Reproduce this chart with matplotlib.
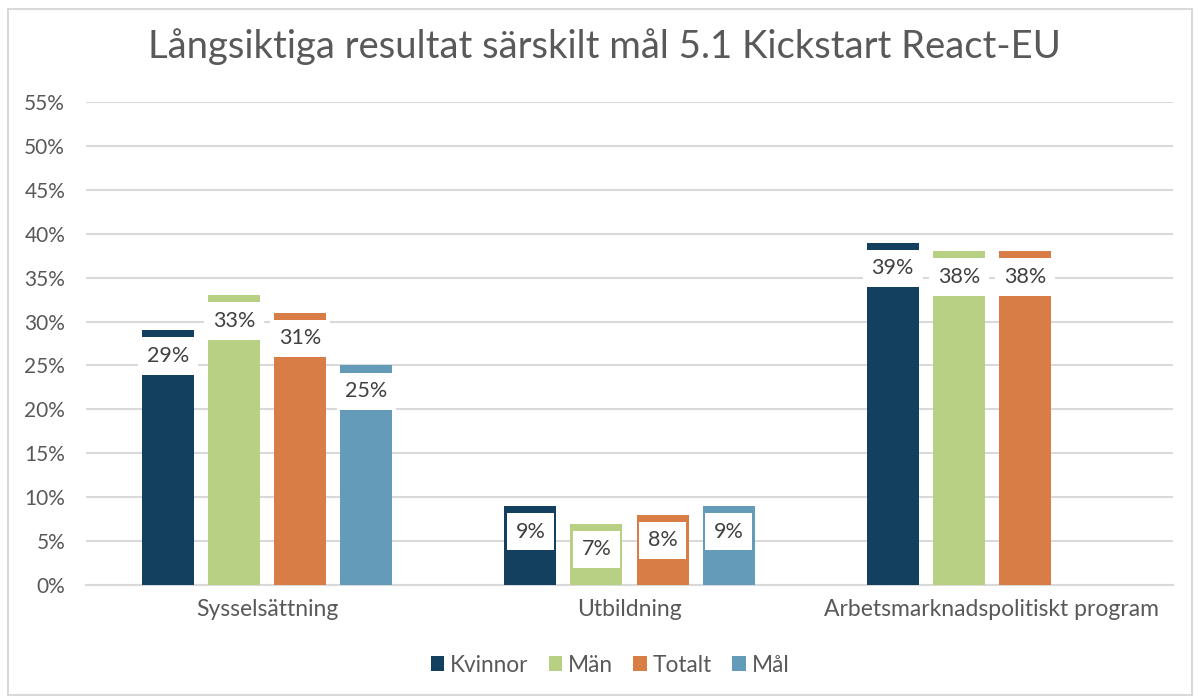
import matplotlib
matplotlib.use("Agg")
import matplotlib.pyplot as plt
import numpy as np
from matplotlib.patches import Rectangle

categories = ["Sysselsättning", "Utbildning", "Arbetsmarknadspolitiskt program"]
series_names = ["Kvinnor", "Män", "Totalt", "Mål"]
kvinnor = [29, 9, 39]
man = [33, 7, 38]
totalt = [31, 8, 38]
mal = [25, 9, None]
colors = ["#12405e", "#b8d084", "#d87d45", "#649bb8"]
yticks = list(range(0, 60, 5))

plt.rcParams['font.family'] = ['Lato', 'DejaVu Sans']
txt = "#595959"

fig = plt.figure(figsize=(11.98, 6.98), dpi=100)
ax = fig.add_axes([86/1198, 1-585/698, 1087/1198, (585-102)/698])

x = np.arange(len(categories))
step = 0.1823
width = 0.1436
all_series = [kvinnor, man, totalt, mal]
for i, (name, vals, c) in enumerate(zip(series_names, all_series, colors)):
    xs = x + (i - 1.5) * step
    for xi, v in zip(xs, vals):
        if v is None:
            continue
        ax.bar(xi, v, width=width, color=c, zorder=3)
        ax.annotate(f"{v}%", (xi, v), xytext=(0, -18.5), textcoords="offset points",
                    ha="center", va="center", fontsize=15.5, color="#404040", zorder=5,
                    bbox=dict(boxstyle="square,pad=0.4", fc="white", ec="none"))
    ax.bar(np.nan, np.nan, color=c, label=name)

ax.set_xlim(-0.5, 2.5)
ax.set_ylim(0, 55)
ax.set_yticks(yticks)
ax.set_yticklabels([f"{t}%" for t in yticks], fontsize=15, color=txt)
ax.set_xticks(x)
ax.set_xticklabels(categories, fontsize=16.5, color=txt)
ax.tick_params(axis="x", length=0, pad=10)
ax.tick_params(axis="y", length=0, pad=15)
ax.grid(axis="y", color="#d9d9d9", linewidth=1.5, zorder=0)
for s in ["top", "right", "left"]:
    ax.spines[s].set_visible(False)
ax.spines["bottom"].set_color("#d9d9d9")
ax.spines["bottom"].set_linewidth(1.5)

fig.text(604/1198, 1-47/698, "Långsiktiga resultat särskilt mål 5.1 Kickstart React-EU",
         ha="center", va="center", fontsize=27.5, color=txt)

leg = fig.legend(loc="center", bbox_to_anchor=(610/1198, 1-665/698), ncol=4, frameon=False,
                 fontsize=16.3, handlelength=0.6, handleheight=0.6, handletextpad=0.25,
                 columnspacing=0.9)
for t in leg.get_texts():
    t.set_color(txt)

fig.patches.append(Rectangle((8/1198, 0.005), 1-14/1198, 1-12/698, transform=fig.transFigure,
                             fill=False, ec="#d9d9d9", lw=1.5))

fig.savefig("out.png", dpi=100, facecolor="white")
